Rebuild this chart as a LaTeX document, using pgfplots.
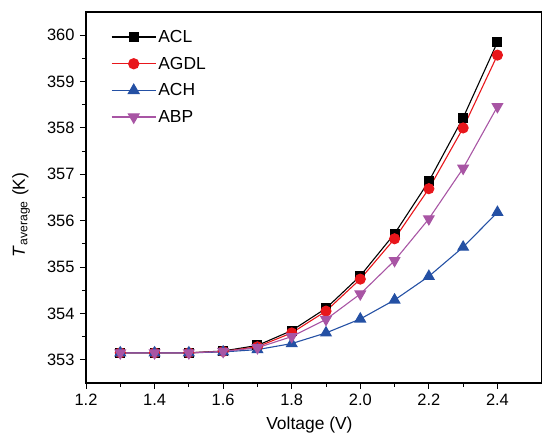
\documentclass[border=0pt]{standalone}
\usepackage{fontspec}
\setmainfont{Liberation Sans}
\usepackage{pgfplots}
\pgfplotsset{compat=1.18}
\definecolor{cred}{HTML}{E8161B}
\definecolor{cblue}{HTML}{2450A4}
\definecolor{cpurple}{HTML}{A855A4}
\begin{document}
\begin{tikzpicture}
\begin{axis}[
  scale only axis, width=456bp, height=371bp,
  xmin=1.2, xmax=2.53, ymin=352.5, ymax=360.5,
  xtick={1.2,1.4,...,2.41}, ytick={353,354,...,360},
  minor x tick num=1, minor y tick num=1,
  xtick pos=bottom, ytick pos=left,
  tick align=outside,
  major tick length=6bp, minor tick length=4bp,
  every tick/.style={black, line width=1pt},
  axis line style={line width=1.1pt},
  /pgf/number format/assume math mode=true,
  xticklabel style={/pgf/number format/fixed, /pgf/number format/fixed zerofill, /pgf/number format/precision=1, yshift=-2bp},
  yticklabel style={/pgf/number format/fixed, /pgf/number format/1000 sep={}, xshift=-2bp},
  ticklabel style={font=\fontsize{16.5}{19}\selectfont},
  xlabel={Voltage (V)}, ylabel={\textit{T}\textsubscript{average} (K)},
  label style={font=\fontsize{17.5}{20}\selectfont},
  xlabel style={at={(axis description cs:0.49,0)}, anchor=north, yshift=-30bp},
  ylabel style={at={(axis description cs:-0.134,0.453)}, anchor=base},
  legend cell align=left,
  legend style={at={(0.048,0.962)}, anchor=north west, draw=none, fill=none,
    font=\fontsize{17.5}{20}\selectfont, row sep=9bp},
  legend image code/.code={\draw[line width=1.3pt, mark repeat=2,mark phase=2] plot coordinates {(0bp,0bp) (22bp,0bp) (44bp,0bp)};},
  every axis plot/.append style={line width=1.1pt},
]
\coordinate (sw) at (rel axis cs:0,0);
\coordinate (ne) at (rel axis cs:1,1);
\addplot[black, mark=square*, mark size=4.5bp] coordinates {
(1.3,353.15)(1.4,353.15)(1.5,353.15)(1.6,353.19)(1.7,353.31)(1.8,353.63)(1.9,354.11)(2.0,354.81)(2.1,355.72)(2.2,356.85)(2.3,358.22)(2.4,359.85)};
\addlegendentry{ACL}
\addplot[cred, mark=*, mark size=5bp] coordinates {
(1.3,353.15)(1.4,353.15)(1.5,353.15)(1.6,353.18)(1.7,353.28)(1.8,353.58)(1.9,354.05)(2.0,354.74)(2.1,355.61)(2.2,356.69)(2.3,358.0)(2.4,359.57)};
\addlegendentry{AGDL}
\addplot[cblue, mark=triangle*, mark size=6bp] coordinates {
(1.3,353.15)(1.4,353.15)(1.5,353.15)(1.6,353.17)(1.7,353.22)(1.8,353.35)(1.9,353.58)(2.0,353.88)(2.1,354.29)(2.2,354.8)(2.3,355.43)(2.4,356.18)};
\addlegendentry{ACH}
\addplot[cpurple, mark=triangle*, mark options={rotate=180}, mark size=6bp] coordinates {
(1.3,353.15)(1.4,353.15)(1.5,353.15)(1.6,353.18)(1.7,353.26)(1.8,353.5)(1.9,353.87)(2.0,354.42)(2.1,355.14)(2.2,356.04)(2.3,357.13)(2.4,358.46)};
\addlegendentry{ABP}
\end{axis}
\pgfresetboundingbox
\useasboundingbox ([xshift=-86bp,yshift=-52bp]sw) rectangle ([yshift=12bp]ne);
\end{tikzpicture}
\end{document}
